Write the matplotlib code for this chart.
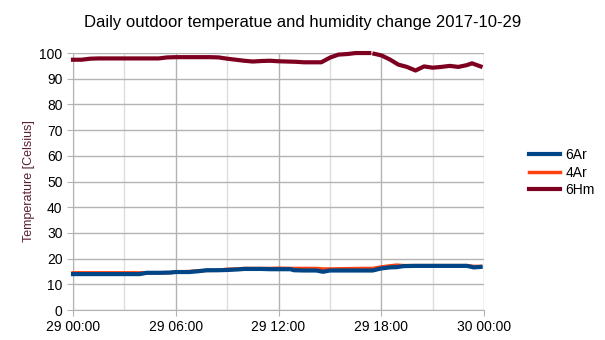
import pandas as pd
import numpy as np
import matplotlib
matplotlib.use('Agg')
import matplotlib.pyplot as plt
import matplotlib.dates as mdates

plt.rcParams['font.family'] = ['Liberation Sans', 'DejaVu Sans']

start = pd.Timestamp('2017-10-29 00:00')

# hours since midnight and readings
t_temp = [0, 1, 2, 3, 3.9, 4.3, 5.0, 5.7, 6.0, 6.8, 7.3, 7.8, 8.5, 9.0, 9.6, 10.0, 11.0, 11.5, 12.0, 12.7,
          12.9, 13.5, 14.2, 14.6, 15.0, 16.0, 17.0, 17.5, 18.0, 18.5, 18.9, 19.3, 20.0, 21.0, 22.0, 23.0, 23.4, 23.8]
t6ar = [14.0, 14.0, 14.0, 14.0, 14.0, 14.5, 14.5, 14.6, 14.8, 14.8, 15.1, 15.5, 15.5, 15.6, 15.8, 16.0, 16.0, 15.9, 15.9, 15.9,
        15.5, 15.4, 15.4, 14.9, 15.4, 15.4, 15.4, 15.4, 16.2, 16.6, 16.7, 17.1, 17.2, 17.2, 17.2, 17.2, 16.6, 16.8]
t4ar = [14.5, 14.5, 14.5, 14.5, 14.5, 14.5, 14.5, 14.6, 14.8, 15.0, 15.3, 15.4, 15.5, 15.9, 16.0, 16.2, 16.2, 16.2, 16.3, 16.2,
        16.2, 16.2, 16.2, 16.0, 16.0, 16.1, 16.2, 16.2, 16.8, 17.2, 17.5, 17.3, 17.3, 17.3, 17.3, 17.3, 17.0, 17.0]

t_hum = [0, 0.5, 1.0, 1.5, 3, 5.0, 5.5, 6, 7, 8, 8.5, 9.0, 9.5, 10.0, 10.5, 11.0, 11.5, 12.0, 12.5, 13.0, 13.5, 14.0,
         14.5, 15.0, 15.5, 16.0, 16.5, 17.0, 17.3, 17.45, 17.6, 18.0, 18.5, 19.0, 19.5, 20.0, 20.5, 21.0, 21.5, 22.0,
         22.5, 23.0, 23.3, 23.8]
h6hm = [97.4, 97.4, 97.8, 97.9, 97.9, 97.9, 98.3, 98.4, 98.4, 98.4, 98.3, 97.8, 97.4, 97.0, 96.7, 96.9, 97.0, 96.8, 96.7, 96.6, 96.4, 96.4,
        96.4, 98.2, 99.4, 99.6, 100, 100, 100, np.nan, 99.7, 99.1, 97.5, 95.5, 94.6, 93.2, 94.8, 94.3, 94.6, 95.0,
        94.6, 95.3, 96.0, 94.8]

x_temp = [start + pd.Timedelta(hours=h) for h in t_temp]
x_hum = [start + pd.Timedelta(hours=h) for h in t_hum]

fig = plt.figure(figsize=(6.05, 3.4), dpi=100)
ax = fig.add_axes([0.1207, 0.088, 0.6793, 0.756])

ax.plot(x_temp, t6ar, color='#004586', lw=3, label='6Ar', zorder=5, clip_on=False)
ax.plot(x_temp, t4ar, color='#ff420e', lw=2.5, label='4Ar', zorder=4, clip_on=False)
ax.plot(x_hum, h6hm, color='#7e0021', lw=3, label='6Hm', zorder=5, clip_on=False)

ax.set_xlim(start, start + pd.Timedelta(hours=24))
ax.set_ylim(0, 100)
ax.set_yticks(range(0, 101, 10))
ax.xaxis.set_major_locator(mdates.HourLocator(byhour=[0, 6, 12, 18]))
ax.xaxis.set_minor_locator(mdates.HourLocator(byhour=[3, 9, 15, 21]))
ax.xaxis.set_major_formatter(mdates.DateFormatter('%d %H:%M'))

ax.grid(True, which='major', color='#b3b3b3', lw=1)
ax.grid(True, which='minor', axis='x', color='#dddddd', lw=1)
ax.set_axisbelow(True)
for s in ax.spines.values():
    s.set_visible(False)
ax.spines['left'].set_visible(True)
ax.spines['left'].set_color('#b3b3b3')
ax.spines['bottom'].set_visible(True)
ax.spines['bottom'].set_color('#b3b3b3')
ax.tick_params(which='major', length=4, color='#b3b3b3', labelsize=10, labelcolor='black')
ax.tick_params(which='minor', length=0)

ax.set_ylabel('Temperature [Celsius]', color='#5a2030', fontsize=9, labelpad=3)
fig.suptitle('Daily outdoor temperatue and humidity change 2017-10-29', x=0.5, y=0.955, fontsize=12)

ax.legend(loc='center left', bbox_to_anchor=(1.08, 0.535), frameon=False, fontsize=10,
          handlelength=2.2, handletextpad=0.4, labelspacing=0.25)

fig.savefig('out.png', dpi=100)
